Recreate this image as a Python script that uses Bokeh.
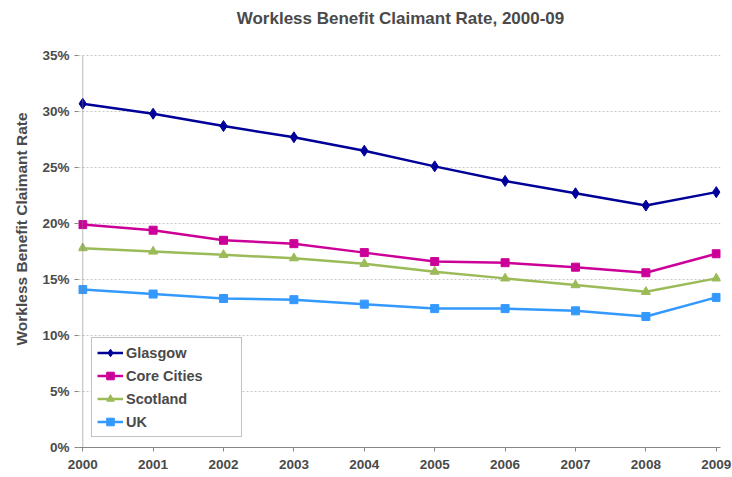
from bokeh.plotting import figure
from bokeh.models import (Range1d, BoxAnnotation, Legend, LegendItem, NumeralTickFormatter,
                          FixedTicker, Title, Label)
from bokeh.embed import file_html
from bokeh.resources import INLINE

years = [2000, 2001, 2002, 2003, 2004, 2005, 2006, 2007, 2008, 2009]
glasgow = [0.307, 0.298, 0.287, 0.277, 0.265, 0.251, 0.238, 0.227, 0.216, 0.228]
core_cities = [0.199, 0.194, 0.185, 0.182, 0.174, 0.166, 0.165, 0.161, 0.156, 0.173]
scotland = [0.178, 0.175, 0.172, 0.169, 0.164, 0.157, 0.151, 0.145, 0.139, 0.151]
uk = [0.141, 0.137, 0.133, 0.132, 0.128, 0.124, 0.124, 0.122, 0.117, 0.134]
y_ticks = [0, 0.05, 0.10, 0.15, 0.20, 0.25, 0.30, 0.35]

TXT = "#4a4a4a"
FONT = "Liberation Sans"
Y_MAX = 0.35

# frame extends to the top of the canvas so the title can sit inside it
p = figure(width=732, height=477, output_backend="svg", toolbar_location=None,
           x_range=Range1d(1999.94, 2009.06), y_range=Range1d(0, Y_MAX + 0.0491),
           min_border_left=76, min_border_right=12, min_border_top=0, min_border_bottom=30)
p.title = None
p.outline_line_color = None
p.background_fill_color = "white"
p.border_fill_color = "white"

p.xgrid.grid_line_color = None
p.ygrid.grid_line_color = "#c8c8c8"
p.ygrid.grid_line_dash = "2 2"
p.ygrid.grid_line_width = 1

p.xaxis.ticker = FixedTicker(ticks=years)
p.yaxis.ticker = FixedTicker(ticks=y_ticks)
p.yaxis.formatter = NumeralTickFormatter(format="0%")
for ax in (p.xaxis, p.yaxis):
    ax.major_label_text_font = FONT
    ax.major_label_text_font_size = "13.5px"
    ax.major_label_text_font_style = "bold"
    ax.major_label_text_color = TXT
    ax.axis_line_color = "#868686"
    ax.major_tick_line_color = "#868686"
    ax.major_tick_out = 4
    ax.major_tick_in = 0
    ax.minor_tick_line_color = None
p.yaxis.axis_line_color = None
# vertical axis line at the first year, from 0% to 35%
p.add_layout(BoxAnnotation(left=years[0], right=years[0], bottom=0, top=Y_MAX,
                           fill_alpha=0, line_color="#868686", line_width=1))
p.add_layout(Title(text="Workless Benefit Claimant Rate", align="left",
                   text_font=FONT, text_font_size="15.5px", text_font_style="bold",
                   text_color=TXT, offset=102, standoff=20), "left")
p.xaxis.major_label_standoff = 8

# screen units are measured from the frame's bottom-left corner
p.add_layout(Label(x=322, y=429, x_units="screen", y_units="screen",
                   text="Workless Benefit Claimant Rate, 2000-09",
                   text_align="center", text_baseline="middle",
                   text_font=FONT, text_font_size="17px", text_font_style="bold",
                   text_color=TXT))

series = [
    ("Glasgow", glasgow, "#000099", "diamond", 11),
    ("Core Cities", core_cities, "#cc0099", "square", 8),
    ("Scotland", scotland, "#9bbb59", "triangle", 9),
    ("UK", uk, "#3399ff", "square", 8),
]
items = []
for name, vals, col, mk, sz in series:
    l = p.line(years, vals, line_color=col, line_width=2.5)
    m = p.scatter(years, vals, marker=mk, size=sz, fill_color=col, line_color=col)
    items.append(LegendItem(label=name, renderers=[l, m]))

legend = Legend(items=items, location=(13, 10), orientation="vertical",
                label_text_font=FONT, label_text_font_size="14.5px", label_text_font_style="bold",
                label_text_color=TXT, glyph_width=26, glyph_height=19, label_height=19,
                label_width=110, spacing=4, padding=5, margin=0, label_standoff=3,
                border_line_color="#868686", border_line_width=1,
                background_fill_color="white", background_fill_alpha=1)
p.add_layout(legend, "center")

open("out.html", "w").write(file_html(p, INLINE))
